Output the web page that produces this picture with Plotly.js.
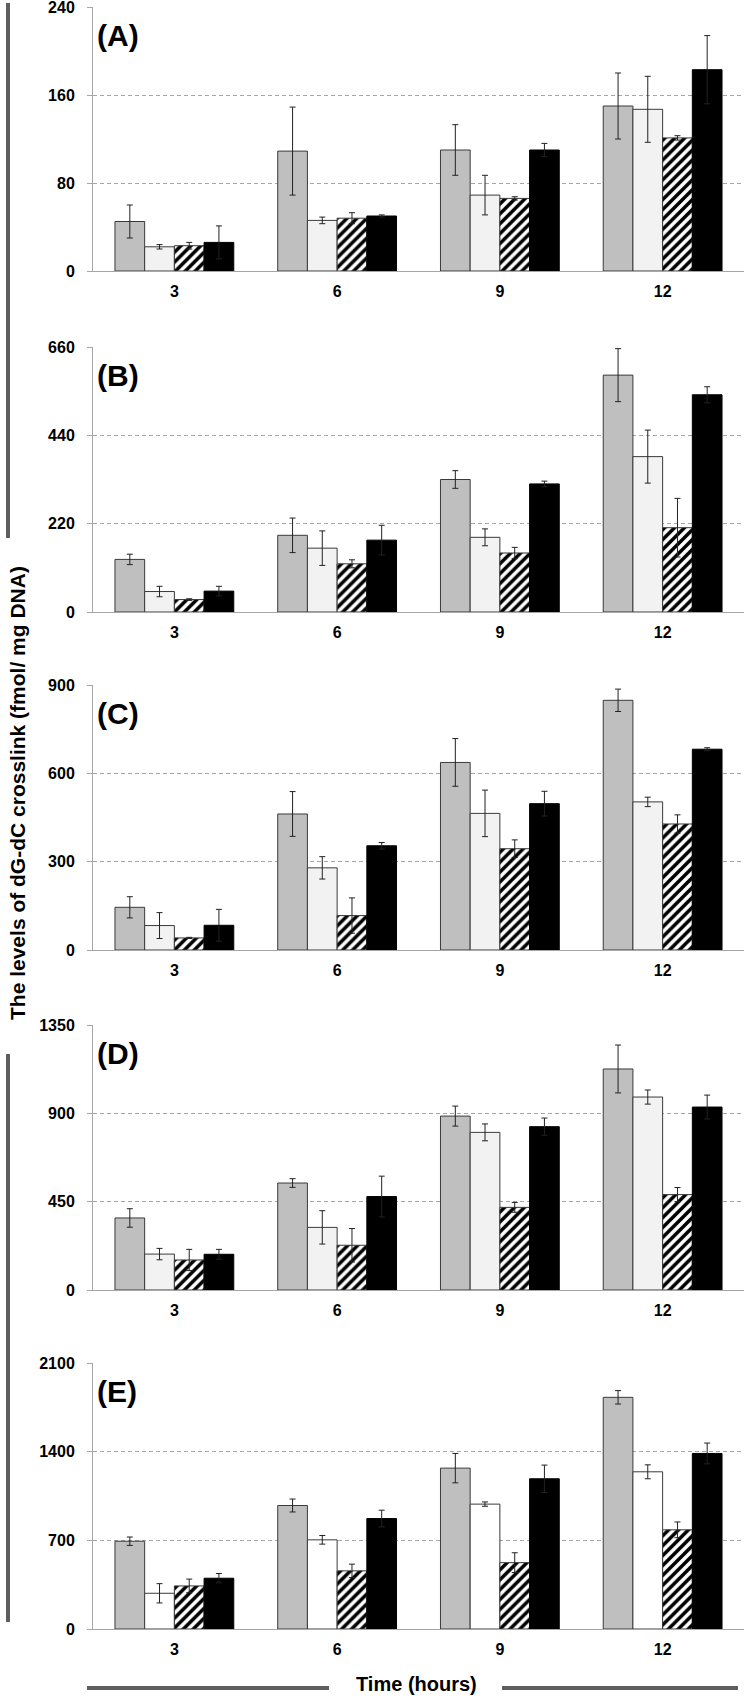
<!DOCTYPE html>
<html>
<head>
<meta charset="utf-8">
<script src="https://cdn.plot.ly/plotly-3.0.1.min.js"></script>
<style>
  body { margin: 0; background: #fff; }
  #chart { width: 744px; height: 1698px; }
</style>
</head>
<body>
<div id="chart"></div>
<script>
// time points (hours)
const hours = ['3', '6', '9', '12'];
const panelLabels = ['(A)', '(B)', '(C)', '(D)', '(E)'];
const yMax = [240, 660, 900, 1350, 2100];

// bar heights, one row per series: grey, light, hatched, black
const valsA = [[45, 109, 110, 150], [22, 46, 69, 147], [23, 48, 66, 121], [26, 50, 110, 183]];
const valsB = [[131, 191, 330, 590], [51, 159, 186, 387], [31, 120, 147, 210], [52, 179, 319, 541]];
const valsC = [[145, 462, 637, 848], [83, 279, 464, 503], [41, 117, 344, 428], [84, 354, 497, 682]];
const valsD = [[367, 545, 886, 1126], [183, 319, 803, 983], [153, 228, 421, 486], [182, 476, 832, 932]];
const valsE = [[693, 975, 1270, 1829], [282, 704, 986, 1241], [340, 459, 524, 783], [401, 872, 1186, 1386]];

// error bars (+/-)
const errsA = [[15, 40, 23, 30], [2, 3, 18, 30], [3, 5, 1.5, 2], [15, 1, 6, 31]];
const errsB = [[13, 43, 22, 66], [13, 43, 21, 66], [2, 10, 14, 73], [12, 37, 7, 20]];
const errsC = [[36, 76, 81, 38], [44, 38, 79, 16], [2, 60, 30, 31], [54, 11, 42, 5]];
const errsD = [[47, 22, 51, 122], [29, 85, 43, 36], [54, 85, 25, 36], [25, 104, 44, 61]];
const errsE = [[33, 51, 116, 53], [76, 34, 17, 55], [54, 53, 78, 62], [37, 66, 108, 82]];

const allVals = [valsA, valsB, valsC, valsD, valsE];
const allErrs = [errsA, errsB, errsC, errsD, errsE];

// page geometry in pixels
const W = 744, H = 1698;
const M = { l: 93, r: 0, t: 7, b: 69 };
const plotH = H - M.t - M.b;
const plotW = W - M.l - M.r;
// top / bottom pixel rows of each panel
const panelTop = [7, 347, 685, 1025, 1363];
const panelBot = [271, 612, 950, 1290, 1629];

function py(p) { return (H - M.b - p) / plotH; }
function px(p) { return (p - M.l) / plotW; }

const FONT = 'Liberation Sans, Arial, sans-serif';
const axisGrey = '#a6a6a6';

function seriesColor(panel, s) {
    if (s === 0) return '#bfbfbf';
    if (s === 1) return panel === 4 ? '#ffffff' : '#f2f2f2';
    if (s === 2) return '#ffffff';
    return '#000000';
}

const traces = [];
const layout = {
    width: W,
    height: H,
    margin: M,
    paper_bgcolor: '#fff',
    plot_bgcolor: '#fff',
    showlegend: false,
    barmode: 'group',
    bargap: 0.27,
    bargroupgap: 0,
    font: { family: FONT, color: '#000' },
    annotations: [],
    shapes: []
};

for (let p = 0; p < 5; p++) {
    const n = p === 0 ? '' : String(p + 1);
    for (let s = 0; s < 4; s++) {
        const marker = {
            color: seriesColor(p, s),
            line: { color: s === 3 ? '#000' : '#3a3a3a', width: 1 }
        };
        if (s === 2) {
            marker.pattern = { shape: '/', fgcolor: '#000', bgcolor: '#fff', size: 7, solidity: 0.5 };
        }
        traces.push({
            type: 'bar',
            x: hours,
            y: allVals[p][s],
            xaxis: 'x' + n,
            yaxis: 'y' + n,
            marker: marker,
            error_y: { type: 'data', array: allErrs[p][s], visible: true, color: '#222', thickness: 1, width: 3 },
            hoverinfo: 'y'
        });
    }
    layout['xaxis' + n] = {
        domain: [0, 1],
        anchor: 'y' + n,
        type: 'category',
        showgrid: false,
        showline: true,
        linecolor: axisGrey,
        linewidth: 1,
        ticks: '',
        ticklabelstandoff: 6,
        tickfont: { family: FONT, size: 16, weight: 'bold', color: '#000' }
    };
    layout['yaxis' + n] = {
        domain: [py(panelBot[p]), py(panelTop[p])],
        anchor: 'x' + n,
        range: [0, yMax[p]],
        tickvals: [0, yMax[p] / 3, 2 * yMax[p] / 3, yMax[p]],
        ticklabeloverflow: 'allow',
        showline: true,
        linecolor: axisGrey,
        linewidth: 1,
        ticks: 'outside',
        ticklen: 5,
        tickcolor: axisGrey,
        ticklabelstandoff: 9,
        showgrid: true,
        gridcolor: axisGrey,
        griddash: '4px,3px',
        zeroline: false,
        tickfont: { family: FONT, size: 16, weight: 'bold', color: '#000' }
    };
    layout.annotations.push({
        xref: 'paper', yref: 'paper',
        x: px(95), y: py(panelTop[p] + 28),
        xanchor: 'left', yanchor: 'middle',
        showarrow: false,
        text: panelLabels[p],
        font: { family: FONT, size: 30, weight: 'bold', color: '#000' }
    });
}

// shared axis titles
layout.annotations.push({
    xref: 'paper', yref: 'paper',
    x: px(17), y: py(793),
    xanchor: 'center', yanchor: 'middle',
    textangle: -90,
    showarrow: false,
    text: 'The levels of dG-dC crosslink (fmol/ mg DNA)',
    font: { family: FONT, size: 21, weight: 'bold', color: '#000' }
});
layout.annotations.push({
    xref: 'paper', yref: 'paper',
    x: px(416), y: py(1684),
    xanchor: 'center', yanchor: 'middle',
    showarrow: false,
    text: 'Time (hours)',
    font: { family: FONT, size: 20, weight: 'bold', color: '#000' }
});

// decorative grey rules beside the titles
const rule = { color: '#5f5f5f', width: 4 };
layout.shapes.push(
    { type: 'line', xref: 'paper', yref: 'paper', x0: px(8), x1: px(8), y0: py(3), y1: py(538), line: rule },
    { type: 'line', xref: 'paper', yref: 'paper', x0: px(8), x1: px(8), y0: py(1054), y1: py(1622), line: rule },
    { type: 'line', xref: 'paper', yref: 'paper', x0: px(87), x1: px(329), y0: py(1688), y1: py(1688), line: rule },
    { type: 'line', xref: 'paper', yref: 'paper', x0: px(502), x1: px(738), y0: py(1688), y1: py(1688), line: rule }
);

Plotly.newPlot('chart', traces, layout, { staticPlot: true });
</script>
</body>
</html>
